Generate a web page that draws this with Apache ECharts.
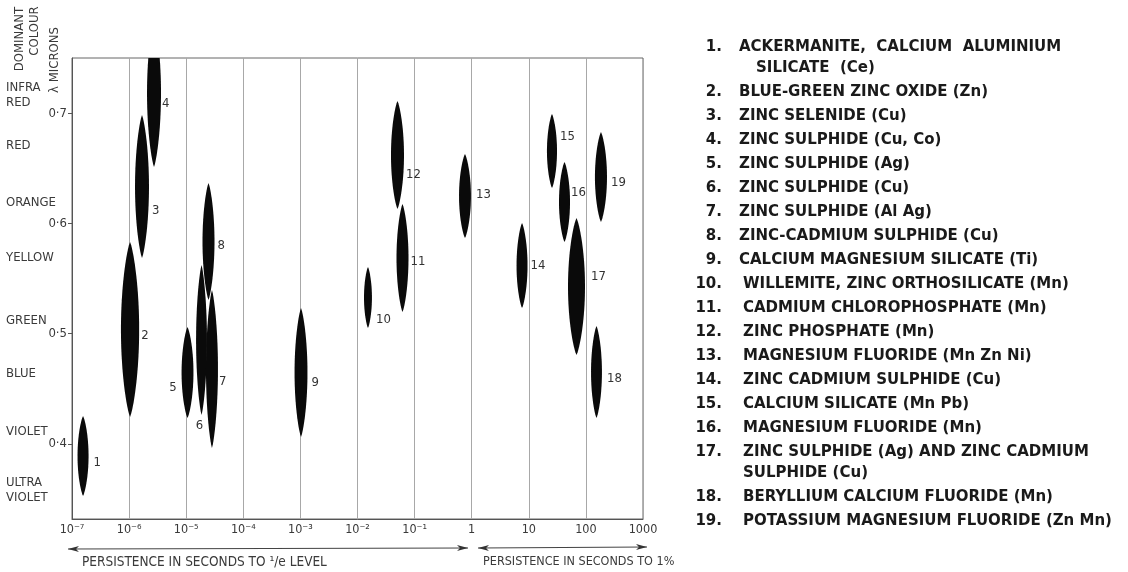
<!DOCTYPE html>
<html><head><meta charset="utf-8">
<script src="https://cdn.jsdelivr.net/npm/echarts@6/dist/echarts.min.js"></script>
<style>html,body{margin:0;padding:0;background:#fff}#c{width:1128px;height:572px}</style>
</head><body><div id="c"></div>
<script>
// ---------- DATA ----------
const xTickLabels = ['10\u207B\u2077','10\u207B\u2076','10\u207B\u2075','10\u207B\u2074','10\u207B\u00B3','10\u207B\u00B2','10\u207B\u00B9','1','10','100','1000'];
const yTickValues = [0.4, 0.5, 0.6, 0.7];
const yTickLabels = ['0\u00B74','0\u00B75','0\u00B76','0\u00B77'];
const colourNames = ['INFRA\nRED','RED','ORANGE','YELLOW','GREEN','BLUE','VIOLET','ULTRA\nVIOLET'];
const colourLambda = [0.716, 0.671, 0.619, 0.569, 0.512, 0.4635, 0.411, 0.358];

const phosphorIds = [1,2,3,4,5,6,7,8,9,10,11,12,13,14,15,16,17,18,19];
// persistence range (seconds)
const persistenceLow  = [1.25e-7, 7.2e-7, 1.27e-6, 2.06e-6, 8.3e-6, 1.49e-5, 2.22e-5, 1.93e-5, 7.9e-4, 1.30e-2, 4.82e-2, 3.86e-2, 0.60, 6.1, 20.8, 33.8, 48.6, 123, 144];
const persistenceHigh = [1.95e-7, 1.5e-6, 2.23e-6, 3.62e-6, 1.34e-5, 2.31e-5, 3.6e-5, 3.13e-5, 1.33e-3, 1.79e-2, 7.82e-2, 6.52e-2, 0.97, 9.5, 31.2, 52.7, 96.4, 191, 234];
// dominant wavelength range (microns)
const lambdaHigh = [0.4254, 0.5832, 0.6983, 0.785, 0.5061, 0.5623, 0.5396, 0.6367, 0.5233, 0.5605, 0.6176, 0.7110, 0.6630, 0.6004, 0.6992, 0.6557, 0.6049, 0.5070, 0.6829];
const lambdaLow  = [0.3529, 0.4245, 0.5687, 0.6512, 0.4236, 0.4263, 0.3964, 0.5306, 0.4064, 0.5052, 0.5197, 0.6131, 0.5868, 0.5233, 0.6321, 0.5832, 0.4807, 0.4236, 0.6013];

const phosphorNames = [
  ['ACKERMANITE,  CALCIUM  ALUMINIUM', 'SILICATE  (Ce)'],
  ['BLUE-GREEN ZINC OXIDE (Zn)'],
  ['ZINC SELENIDE (Cu)'],
  ['ZINC SULPHIDE (Cu, Co)'],
  ['ZINC SULPHIDE (Ag)'],
  ['ZINC SULPHIDE (Cu)'],
  ['ZINC SULPHIDE (Al Ag)'],
  ['ZINC-CADMIUM SULPHIDE (Cu)'],
  ['CALCIUM MAGNESIUM SILICATE (Ti)'],
  ['WILLEMITE, ZINC ORTHOSILICATE (Mn)'],
  ['CADMIUM CHLOROPHOSPHATE (Mn)'],
  ['ZINC PHOSPHATE (Mn)'],
  ['MAGNESIUM FLUORIDE (Mn Zn Ni)'],
  ['ZINC CADMIUM SULPHIDE (Cu)'],
  ['CALCIUM SILICATE (Mn Pb)'],
  ['MAGNESIUM FLUORIDE (Mn)'],
  ['ZINC SULPHIDE (Ag) AND ZINC CADMIUM', 'SULPHIDE (Cu)'],
  ['BERYLLIUM CALCIUM FLUORIDE (Mn)'],
  ['POTASSIUM MAGNESIUM FLUORIDE (Zn Mn)']
];

// ---------- STYLE ----------
const chartFont = "'DejaVu Sans Condensed', 'Liberation Sans Narrow', 'Liberation Sans', sans-serif";
const listFont = "'DejaVu Sans', 'Open Sans', sans-serif";
const listSize = 15;
// label placement relative to spindle: [dx, dy, mode]
const labelPlace = [
  [5,7,'r'],[2,6,'r'],[3,24,'r'],[1,10,'r'],[5,15,'l'],[-2,11,'b'],[1,13,'r'],[3,4,'r'],[4,10,'r'],[4,22,'r'],
  [2,4,'r'],[2,20,'r'],[5,-1,'r'],[3,0,'r'],[3,-14,'r'],[1,-9,'r'],[6,-10,'r'],[5,7,'r'],[4,6,'r']
];

const seriesData = phosphorIds.map((id, i) => [persistenceLow[i], persistenceHigh[i], lambdaHigh[i], lambdaLow[i], id]);

function renderSpindle(params, api) {
  const lo = api.value(0), hi = api.value(1), lt = api.value(2), lb = api.value(3), id = api.value(4);
  const xc = Math.sqrt(lo * hi), lm = (lt + lb) / 2;
  const pTop = api.coord([xc, lt]), pBot = api.coord([xc, lb]);
  const pL = api.coord([lo, lm]), pR = api.coord([hi, lm]);
  const cx = pTop[0], hw = (pR[0] - pL[0]) / 2;
  const N = 48, right = [], left = [];
  for (let i = 0; i <= N; i++) {
    const t = i / N;
    const y = pTop[1] + (pBot[1] - pTop[1]) * t;
    const w = hw * Math.pow(4 * t * (1 - t), 0.8);
    right.push([cx + w, y]);
    left.unshift([cx - w, y]);
  }
  const pl = labelPlace[params.dataIndex];
  const midY = (pTop[1] + pBot[1]) / 2;
  let tx, ty, align;
  if (pl[2] === 'r') { tx = pR[0] + pl[0]; ty = midY + pl[1]; align = 'left'; }
  else if (pl[2] === 'l') { tx = pL[0] - pl[0]; ty = midY + pl[1]; align = 'right'; }
  else { tx = cx + pl[0]; ty = pBot[1] + pl[1]; align = 'center'; }
  return {
    type: 'group',
    children: [
      { type: 'polygon', shape: { points: right.concat(left) }, style: { fill: '#0a0a0a' } },
      { type: 'text', x: tx, y: ty, style: { text: String(id), fill: '#333', font: '13px ' + chartFont, align: align, verticalAlign: 'middle' } }
    ]
  };
}

// legend list graphics
const graphics = [];
let ly = 47;
phosphorNames.forEach((lines, i) => {
  const n = i + 1;
  const tx = n >= 10 ? 743 : 739;
  graphics.push({ type: 'text', x: 722, y: ly, style: { text: n + '.', fill: '#1a1a1a', font: 'bold ' + listSize + 'px ' + listFont, align: 'right', verticalAlign: 'middle' } });
  lines.forEach((ln, j) => {
    const x = j === 0 ? tx : (n === 1 ? 756 : tx);
    graphics.push({ type: 'text', x: x, y: ly, style: { text: ln, fill: '#1a1a1a', font: 'bold ' + listSize + 'px ' + listFont, align: 'left', verticalAlign: 'middle' } });
    if (j < lines.length - 1) ly += 21;
  });
  ly += 24;
});
// y axis title (rotated)
const titleStyle = { fill: '#3a3a3a', font: '13px ' + chartFont, align: 'center', verticalAlign: 'middle' };
graphics.push({ type: 'text', x: 20, y: 39, rotation: Math.PI / 2, style: Object.assign({ text: 'DOMINANT' }, titleStyle) });
graphics.push({ type: 'text', x: 35, y: 31, rotation: Math.PI / 2, style: Object.assign({ text: 'COLOUR' }, titleStyle) });
graphics.push({ type: 'text', x: 55, y: 60, rotation: Math.PI / 2, style: Object.assign({ text: '\u03BB MICRONS' }, titleStyle) });
// persistence arrows
function arrowHead(x, y, dir) {
  return { type: 'polygon', shape: { points: [[x, y], [x - dir * 11, y - 3], [x - dir * 8, y], [x - dir * 11, y + 3]] }, style: { fill: '#333' } };
}
graphics.push({ type: 'line', shape: { x1: 68, y1: 549, x2: 468, y2: 548 }, style: { stroke: '#444', lineWidth: 1.2 } });
graphics.push(arrowHead(68, 549, -1), arrowHead(468, 548, 1));
graphics.push({ type: 'line', shape: { x1: 478, y1: 548, x2: 647, y2: 547 }, style: { stroke: '#444', lineWidth: 1.2 } });
graphics.push(arrowHead(478, 548, -1), arrowHead(647, 547, 1));
graphics.push({ type: 'text', x: 82, y: 562, style: { text: 'PERSISTENCE IN SECONDS TO \u00B9/e LEVEL', fill: '#3a3a3a', font: '13.5px ' + chartFont, align: 'left', verticalAlign: 'middle' } });
graphics.push({ type: 'text', x: 483, y: 562, style: { text: 'PERSISTENCE IN SECONDS TO 1%', fill: '#3a3a3a', font: '12.5px ' + chartFont, align: 'left', verticalAlign: 'middle' } });

const option = {
  backgroundColor: '#fff',
  animation: false,
  grid: { left: 72, right: 485, top: 58, bottom: 53, show: true, borderColor: '#666', borderWidth: 1, backgroundColor: 'transparent' },
  xAxis: {
    type: 'log', logBase: 10, min: 1e-7, max: 1000, interval: 1,
    axisLine: { show: true, lineStyle: { color: '#555', width: 1 } },
    axisTick: { show: false },
    splitLine: { show: true, lineStyle: { color: '#a8a8a8', width: 1 } },
    minorSplitLine: { show: false },
    axisLabel: {
      color: '#3a3a3a', fontFamily: chartFont, fontSize: 12.5, margin: 4,
      formatter: function (v) { const e = Math.round(Math.log10(v)); return xTickLabels[e + 7] || ''; }
    }
  },
  yAxis: [
    {
      type: 'value', min: 0.332, max: 0.75,
      axisLine: { show: true, lineStyle: { color: '#555' } },
      axisTick: { show: true, length: 4, customValues: yTickValues, lineStyle: { color: '#555' } },
      splitLine: { show: false },
      axisLabel: {
        customValues: yTickValues, color: '#3a3a3a', fontFamily: chartFont, fontSize: 13, margin: 5,
        formatter: function (v) { const k = yTickValues.findIndex(t => Math.abs(t - v) < 1e-6); return k >= 0 ? yTickLabels[k] : ''; }
      }
    },
    {
      type: 'value', min: 0.332, max: 0.75, position: 'left',
      axisLine: { show: false }, axisTick: { show: false }, splitLine: { show: false },
      axisLabel: {
        customValues: colourLambda, color: '#3a3a3a', fontFamily: chartFont, fontSize: 13, margin: 66, align: 'left', lineHeight: 15,
        formatter: function (v) { const k = colourLambda.findIndex(t => Math.abs(t - v) < 1e-6); return k >= 0 ? colourNames[k] : ''; }
      }
    }
  ],
  graphic: graphics,
  series: [{
    type: 'custom', coordinateSystem: 'cartesian2d', clip: true,
    renderItem: renderSpindle,
    encode: { x: [0, 1], y: [2, 3] },
    data: seriesData
  }]
};
const chart = echarts.init(document.getElementById('c'));
chart.setOption(option);
</script>
</body></html>
